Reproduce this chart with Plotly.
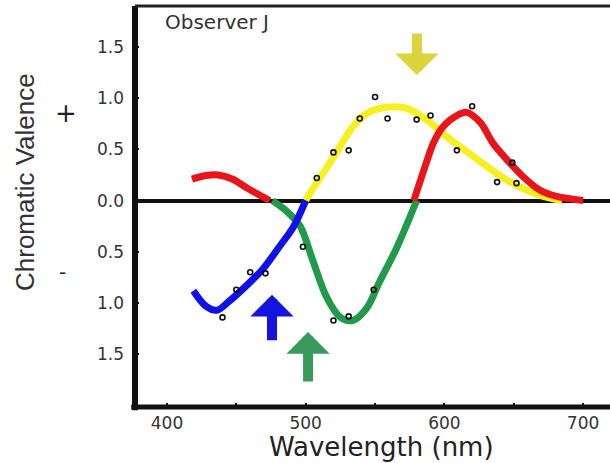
import plotly.graph_objects as go

# ---- data ----
red1_wl = [418, 428, 437, 447, 458, 474]
red1_v = [0.21, 0.245, 0.25, 0.21, 0.12, 0.0]

red2_wl = [578, 587, 592, 599, 609, 616, 626, 635, 645, 657, 669, 681, 700]
red2_v = [0.0, 0.37, 0.56, 0.72, 0.83, 0.86, 0.76, 0.56, 0.40, 0.23, 0.10, 0.04, 0.0]

yellow_wl = [500, 503, 520, 534, 544, 558, 573, 587, 602, 621, 645, 669, 685]
yellow_v = [0.0, 0.07, 0.42, 0.72, 0.85, 0.91, 0.90, 0.79, 0.62, 0.43, 0.20, 0.05, 0.0]

blue_wl = [419, 428, 436, 445, 458, 469, 481, 491, 500]
blue_v = [-0.88, -1.03, -1.07, -0.98, -0.82, -0.67, -0.45, -0.26, 0.0]

green_wl = [476, 486, 496, 505, 515, 525, 534, 544, 553, 566, 580]
green_v = [0.0, -0.10, -0.25, -0.58, -0.94, -1.14, -1.17, -1.05, -0.80, -0.45, 0.0]

dots_wl = [440, 450, 460, 471, 498, 508, 520, 531, 520, 531, 549, 539, 550, 559, 580, 590, 609, 620, 638, 649, 652]
dots_v = [-1.14, -0.87, -0.70, -0.71, -0.45, 0.22, 0.47, 0.49, -1.17, -1.13, -0.87, 0.80, 1.01, 0.80, 0.79, 0.83, 0.49, 0.92, 0.18, 0.37, 0.17]

# arrows: tip wavelength, tip value, tail offset (px)
arrow_names = ["yellow", "blue", "green"]
arrow_wl = [580.2, 475.7, 501.7]
arrow_v = [1.224, -0.92, -1.283]
arrow_len = [-43, 47, 51]

x_tickvals = [400, 450, 500, 550, 600, 650, 700]
x_ticktext = ["400", "", "500", "", "600", "", "700"]
y_tickvals = [1.5, 1.0, 0.5, 0.0, -0.5, -1.0, -1.5]
y_ticktext = ["1.5", "1.0", "0.5", "0.0", "0.5", "1.0", "1.5"]

colors = {"red": "#e8161b", "yellow": "#f7f020", "blue": "#1010e8", "green": "#229a4c"}
arrow_colors = {"yellow": "#dcd43a", "blue": "#1414e0", "green": "#3a9a5c"}

fig = go.Figure()
LW = 7
for wl, v, c in [(yellow_wl, yellow_v, "yellow"), (green_wl, green_v, "green"),
                 (blue_wl, blue_v, "blue"), (red1_wl, red1_v, "red"), (red2_wl, red2_v, "red")]:
    fig.add_trace(go.Scatter(x=wl, y=v, mode="lines",
                             line=dict(color=colors[c], width=LW, shape="spline", smoothing=0.9),
                             hoverinfo="skip", showlegend=False))

fig.add_trace(go.Scatter(x=dots_wl, y=dots_v, mode="markers",
                         marker=dict(symbol="circle-open", size=5, color="#111", line=dict(width=1.6)),
                         showlegend=False))

for name, wl, v, ln in zip(arrow_names, arrow_wl, arrow_v, arrow_len):
    fig.add_annotation(x=wl, y=v, ax=0, ay=ln, text="", showarrow=True,
                       arrowhead=1, arrowsize=0.72, arrowwidth=10,
                       arrowcolor=arrow_colors[name], standoff=0)

tick_font = dict(family="DejaVu Sans", size=17, color="#333")

fig.update_layout(
    width=610, height=463,
    margin=dict(l=135, r=0, t=6, b=56),
    paper_bgcolor="white", plot_bgcolor="white",
    xaxis=dict(range=[376.93, 719.4], tickvals=x_tickvals, ticktext=x_ticktext,
               ticks="inside", ticklen=4, tickwidth=2, tickcolor="#111",
               showgrid=False, zeroline=False, showline=False,
               tickfont=tick_font, ticklabelstandoff=4, automargin=False),
    yaxis=dict(range=[-2.014, 1.898], tickvals=y_tickvals, ticktext=y_ticktext,
               ticks="inside", ticklen=4, tickwidth=2, tickcolor="#111",
               showgrid=False, zeroline=True, zerolinecolor="#111", zerolinewidth=4,
               showline=False, tickfont=tick_font, ticklabelstandoff=10, automargin=False),
    shapes=[
        dict(type="line", xref="paper", yref="paper", x0=0, x1=0, y0=-0.008, y1=1.0,
             line=dict(color="#111", width=6)),
        dict(type="line", xref="paper", yref="paper", x0=-0.008, x1=1, y0=0, y1=0,
             line=dict(color="#111", width=5)),
        dict(type="line", xref="paper", yref="paper", x0=0, x1=1, y0=1, y1=1,
             line=dict(color="#222", width=3)),
    ],
)

def px_x(px):
    return (px - 135) / 475


def px_y(py):
    return (407 - py) / 401


def label(px, py, text, size, family="DejaVu Sans", color="#333", angle=0):
    fig.add_annotation(xref="paper", yref="paper", x=px_x(px), y=px_y(py), text=text,
                       xanchor="center", yanchor="middle", textangle=angle,
                       showarrow=False, font=dict(family=family, size=size, color=color))


label(217, 22, "Observer J", 20)
label(381, 447, "Wavelength (nm)", 26, color="#222")
label(25, 182, "Chromatic Valence", 26, family="Liberation Sans", angle=-90)
label(66, 113, "+", 26, color="#222")
label(62, 272, "-", 20, color="#222")

fig.write_html("out.html", config={"displayModeBar": False},
               post_script="document.body.style.margin='0';")
